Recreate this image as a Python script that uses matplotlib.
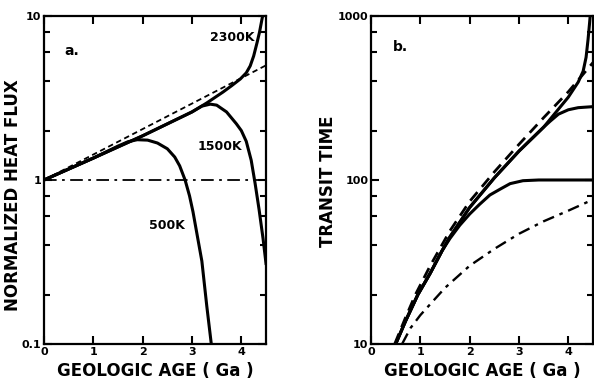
import matplotlib
matplotlib.use('Agg')
import matplotlib.pyplot as plt
from matplotlib.ticker import FixedLocator, NullFormatter

plt.rcParams['font.family'] = ['DejaVu Sans']
plt.rcParams['font.weight'] = 'bold'

# === panel a: normalized heat flux ===
age_a_ref = [0, 4.5]
flux_ref = [1.0, 5.0]          # dashed reference line
flux_one = [1.0, 1.0]          # dash-dot line at 1

age_2300 = [0, 1, 2, 3, 3.3, 3.63, 3.8, 3.98, 4.1, 4.18, 4.25, 4.32, 4.37, 4.42, 4.46]
flux_2300 = [1.0, 1.36, 1.86, 2.6, 2.95, 3.44, 3.75, 4.13, 4.5, 4.96, 5.7, 6.9, 8.0, 9.6, 11.0]

age_1500 = [0, 1, 2, 3, 3.2, 3.37, 3.5, 3.7, 3.9, 4.0, 4.1, 4.2, 4.28, 4.36, 4.44, 4.5]
flux_1500 = [1.0, 1.36, 1.86, 2.6, 2.82, 2.9, 2.86, 2.6, 2.2, 2.0, 1.72, 1.32, 0.95, 0.66, 0.44, 0.31]

age_500 = [0, 1, 1.5, 1.7, 1.89, 2.1, 2.3, 2.5, 2.65, 2.75, 2.86, 2.95, 3.02, 3.1, 3.2, 3.3, 3.4]
flux_500 = [1.0, 1.36, 1.61, 1.71, 1.76, 1.75, 1.68, 1.55, 1.38, 1.22, 1.0, 0.8, 0.64, 0.47, 0.32, 0.17, 0.095]

# === panel b: transit time ===
age_b_dash = [0.48, 0.7, 0.9, 1.2, 1.6, 2.0, 2.5, 3.0, 3.5, 4.0, 4.5]
time_dash = [10, 14.5, 20, 30, 49, 74, 112, 165, 240, 345, 520]

age_b_top = [0.5, 0.7, 0.95, 1.2, 1.44, 1.6, 2.0, 2.5, 3.0, 3.5, 4.0, 4.2, 4.3, 4.36, 4.4, 4.43, 4.46]
time_top = [10, 13.8, 20, 27, 37, 45, 68, 103, 150, 210, 320, 395, 460, 560, 720, 900, 1150]

age_b_mid = [0.5, 0.7, 0.95, 1.2, 1.44, 1.6, 2.0, 2.5, 3.0, 3.5, 3.63, 3.8, 4.0, 4.2, 4.5]
time_mid = [10, 13.8, 20, 27, 37, 45, 68, 103, 150, 210, 228, 252, 268, 276, 280]

age_b_low = [0.5, 0.7, 0.95, 1.2, 1.44, 1.6, 1.8, 2.0, 2.2, 2.41, 2.62, 2.82, 3.08, 3.4, 4.5]
time_low = [10, 13.8, 20, 27, 37, 44, 53, 62, 71, 81, 88, 95, 99, 100, 100]

age_b_dd = [0.63, 0.8, 1.0, 1.5, 2.0, 2.5, 3.0, 3.5, 4.0, 4.5]
time_dd = [10, 12.5, 15, 22, 30, 38, 47, 56, 65, 76]

x_ticks = [0, 1, 2, 3, 4]
x_ticklabels = ['0', '1', '2', '3', '4']


def style_axes(ax, major, major_labels, minor):
    """
    统一坐标轴样式: 对数纵轴, 刻度朝内, 四边都有刻度
    """
    ax.set_yscale('log')
    ax.set_xlim(0, 4.5)
    ax.set_ylim(major[0], major[-1])
    ax.xaxis.set_major_locator(FixedLocator(x_ticks))
    ax.set_xticklabels(x_ticklabels)
    ax.yaxis.set_major_locator(FixedLocator(major))
    ax.set_yticklabels(major_labels)
    ax.yaxis.set_minor_locator(FixedLocator(minor))
    ax.yaxis.set_minor_formatter(NullFormatter())
    ax.xaxis.set_minor_locator(FixedLocator([]))
    ax.tick_params(which='both', direction='in', top=True, right=True,
                   width=1.5, labelsize=8, pad=2)
    ax.tick_params(which='major', length=6)
    ax.tick_params(which='minor', length=4)
    for sp in ax.spines.values():
        sp.set_linewidth(1.6)
    ax.set_xlabel('GEOLOGIC AGE ( Ga )', fontsize=12, fontweight='bold', labelpad=4)


def draw_panel_a(ax):
    ax.plot(age_a_ref, flux_ref, color='black', lw=1.3, ls=(0, (3, 2)))
    ax.plot(age_a_ref, flux_one, color='black', lw=1.3, ls=(0, (7, 3, 1.5, 3)))
    ax.plot(age_500, flux_500, color='black', lw=2.2)
    ax.plot(age_1500, flux_1500, color='black', lw=2.2)
    ax.plot(age_2300, flux_2300, color='black', lw=2.2)
    style_axes(ax, [0.1, 1, 10], ['0.1', '1', '10'],
               [0.2, 0.4, 0.6, 0.8, 2, 4, 6, 8])
    ax.set_ylabel('NORMALIZED HEAT FLUX', fontsize=12, fontweight='bold')
    ax.yaxis.set_label_coords(-0.099, 0.454)
    ax.text(0.57, 6.1, 'a.', fontsize=10, ha='center', va='center')
    ax.text(3.81, 7.4, '2300K', fontsize=9, ha='center', va='center')
    ax.text(3.57, 1.61, '1500K', fontsize=9, ha='center', va='center')
    ax.text(2.49, 0.525, '500K', fontsize=9, ha='center', va='center')


def draw_panel_b(ax):
    ax.plot(age_b_dash, time_dash, color='black', lw=2.0, ls=(0, (4, 2.5)))
    ax.plot(age_b_dd, time_dd, color='black', lw=1.7, ls=(0, (5, 2.5, 1.5, 2.5)))
    ax.plot(age_b_low, time_low, color='black', lw=2.2)
    ax.plot(age_b_mid, time_mid, color='black', lw=2.2)
    ax.plot(age_b_top, time_top, color='black', lw=2.2)
    style_axes(ax, [10, 100, 1000], ['10', '100', '1000'],
               [20, 40, 60, 80, 200, 400, 600, 800])
    ax.set_ylabel('TRANSIT TIME', fontsize=12, fontweight='bold')
    ax.yaxis.set_label_coords(-0.155, 0.497)
    ax.text(0.59, 646, 'b.', fontsize=10, ha='center', va='center')


def main():
    fig = plt.figure(figsize=(5.94, 3.85), dpi=100)
    ax_a = fig.add_axes([0.0741, 0.1065, 0.3737, 0.852])
    ax_b = fig.add_axes([0.6246, 0.1065, 0.3737, 0.852])
    draw_panel_a(ax_a)
    draw_panel_b(ax_b)
    fig.savefig('out.png', dpi=100)


if __name__ == '__main__':
    main()
